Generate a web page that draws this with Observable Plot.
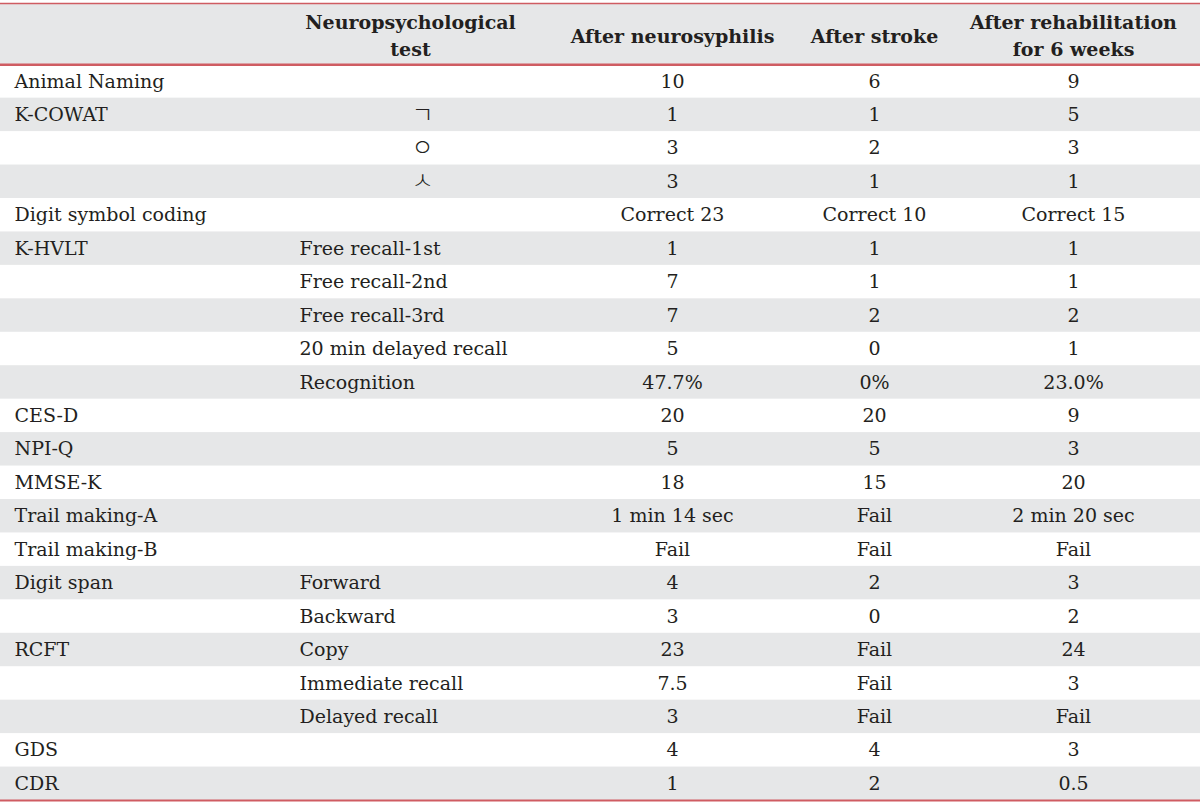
<!DOCTYPE html>
<html>
<head>
<meta charset="utf-8">
<script src="https://cdn.jsdelivr.net/npm/d3@7"></script>
<script src="https://cdn.jsdelivr.net/npm/@observablehq/plot@0.6"></script>
<style>
  html, body { margin: 0; padding: 0; background: #ffffff; }
  #chart svg { display: block; }
</style>
</head>
<body>
<div id="chart"></div>
<script>
// ---- Table data ----
const headers = ["", "Neuropsychological\ntest", "After neurosyphilis", "After stroke", "After rehabilitation\nfor 6 weeks"];
const tests = ["Animal Naming", "K-COWAT", "", "", "Digit symbol coding", "K-HVLT", "", "", "", "", "CES-D", "NPI-Q", "MMSE-K", "Trail making-A", "Trail making-B", "Digit span", "", "RCFT", "", "", "GDS", "CDR"];
const subtests = ["", "ㄱ", "ㅇ", "ㅅ", "", "Free recall-1st", "Free recall-2nd", "Free recall-3rd", "20 min delayed recall", "Recognition", "", "", "", "", "", "Forward", "Backward", "Copy", "Immediate recall", "Delayed recall", "", ""];
const afterNeurosyphilis = ["10", "1", "3", "3", "Correct 23", "1", "7", "7", "5", "47.7%", "20", "5", "18", "1 min 14 sec", "Fail", "4", "3", "23", "7.5", "3", "4", "1"];
const afterStroke = ["6", "1", "2", "1", "Correct 10", "1", "1", "2", "0", "0%", "20", "5", "15", "Fail", "Fail", "2", "0", "Fail", "Fail", "Fail", "4", "2"];
const afterRehabilitation = ["9", "5", "3", "1", "Correct 15", "1", "1", "2", "1", "23.0%", "9", "3", "20", "2 min 20 sec", "Fail", "3", "2", "24", "3", "Fail", "3", "0.5"];

// ---- Layout / style ----
const W = 1200, H = 803;
const headerRows = 1.83;          // header height in row units
const nRows = tests.length;
const colX = {test: 14, sub: 299, jamo: 422, hdrSub: 410, c1: 672, c2: 874, c3: 1073};
const gray = "#e6e7e8";
const red = "#cf5c62";
const ink = "#231f20";
const font = "DejaVu Serif";
const fs = 19;

const rows = tests.map((t, i) => ({
  i, test: t, sub: subtests[i],
  c1: afterNeurosyphilis[i], c2: afterStroke[i], c3: afterRehabilitation[i]
}));
const isJamo = s => /[\u3131-\u318E]/.test(s);
const headerCols = [
  {label: headers[1], x: colX.hdrSub},
  {label: headers[2], x: colX.c1},
  {label: headers[3], x: colX.c2},
  {label: headers[4], x: colX.c3}
];

const common = {fill: ink, fontFamily: font, fontSize: fs};

const chart = Plot.plot({
  width: W,
  height: H,
  margin: 0,
  x: {type: "linear", domain: [0, W], range: [0, W], axis: null},
  y: {type: "linear", domain: [-headerRows, nRows], range: [3, 800], axis: null},
  style: {fontFamily: font, background: "#ffffff"},
  marks: [
    // header background
    Plot.rect([0], {x1: () => 0, x2: () => W, y1: () => -headerRows, y2: () => 0, fill: gray}),
    // zebra stripes
    Plot.rect(rows.filter(r => r.i % 2 === 1), {x1: () => 0, x2: () => W, y1: "i", y2: d => d.i + 1, fill: gray}),
    // rules
    Plot.ruleY([-headerRows], {stroke: red, strokeWidth: 1.5}),
    Plot.ruleY([0], {stroke: red, strokeWidth: 2.5}),
    Plot.ruleY([nRows], {stroke: red, strokeWidth: 2}),
    // header text
    Plot.text(headerCols, {
      x: "x", y: () => -headerRows / 2, text: "label",
      textAnchor: "middle", lineHeight: 1.42, fontWeight: "bold", ...common
    }),
    // first column
    Plot.text(rows, {x: () => colX.test, y: d => d.i + 0.5, text: "test", textAnchor: "start", ...common}),
    // second column (text)
    Plot.text(rows.filter(r => !isJamo(r.sub)), {x: () => colX.sub, y: d => d.i + 0.5, text: "sub", textAnchor: "start", ...common}),
    // second column (Korean letters)
    Plot.text(rows.filter(r => isJamo(r.sub)), {x: () => colX.jamo, y: d => d.i + 0.5, text: "sub", textAnchor: "middle", fill: ink, fontFamily: "Noto Sans CJK KR", fontWeight: 300, fontSize: 24}),
    // value columns
    Plot.text(rows, {x: () => colX.c1, y: d => d.i + 0.5, text: "c1", textAnchor: "middle", ...common}),
    Plot.text(rows, {x: () => colX.c2, y: d => d.i + 0.5, text: "c2", textAnchor: "middle", ...common}),
    Plot.text(rows, {x: () => colX.c3, y: d => d.i + 0.5, text: "c3", textAnchor: "middle", ...common})
  ]
});
document.getElementById("chart").appendChild(chart);
</script>
</body>
</html>
